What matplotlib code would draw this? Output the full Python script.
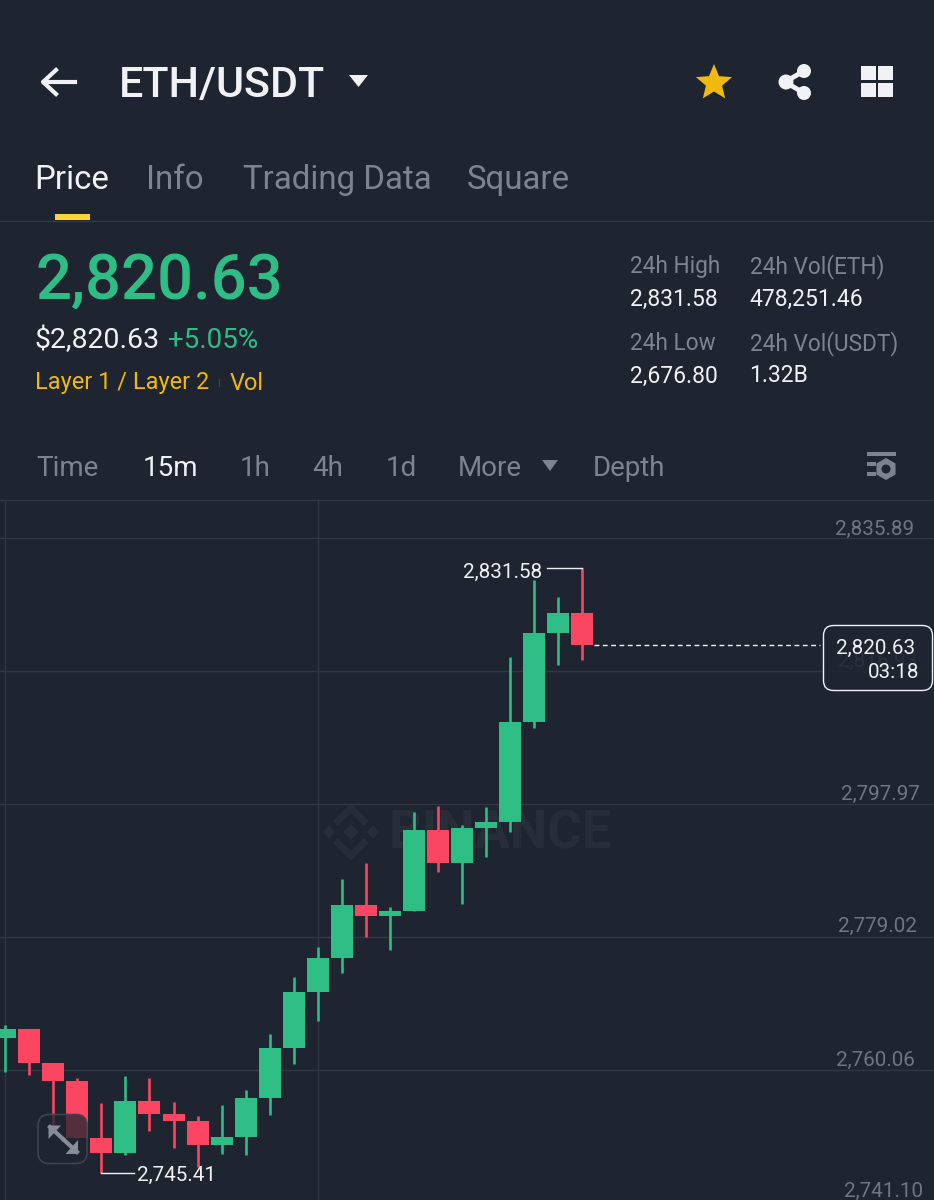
import matplotlib
matplotlib.use("Agg")
import matplotlib.pyplot as plt
from matplotlib.patches import FancyBboxPatch, Polygon, Circle, Rectangle
import numpy as np

plt.rcParams['font.family'] = ['Roboto', 'DejaVu Sans']

# candles, oldest first
opens = [2764.57, 2765.85, 2761.01, 2758.53, 2750.32, 2748.26, 2755.68, 2753.78, 2752.83, 2749.36,
         2750.50, 2756.10, 2763.19, 2771.13, 2776.06, 2783.53, 2782.01, 2782.76, 2794.31, 2789.52,
         2794.51, 2795.45, 2809.70, 2822.30, 2825.16]
highs = [2766.47, 2765.85, 2761.01, 2758.87, 2755.31, 2759.20, 2758.87, 2755.45, 2753.50, 2755.02,
         2757.16, 2765.18, 2773.35, 2777.63, 2787.32, 2789.52, 2783.29, 2796.83, 2797.69, 2794.93,
         2797.50, 2818.88, 2829.90, 2827.44, 2831.58]
lows = [2759.81, 2759.30, 2752.21, 2750.32, 2745.41, 2747.98, 2751.31, 2748.89, 2746.27, 2748.08,
        2747.98, 2753.68, 2760.95, 2767.08, 2773.84, 2779.06, 2777.12, 2782.76, 2788.32, 2783.67,
        2790.46, 2793.94, 2808.85, 2817.79, 2818.50]
closes = [2765.85, 2761.01, 2758.53, 2750.32, 2748.26, 2755.68, 2753.78, 2752.83, 2749.36, 2750.50,
          2756.10, 2763.19, 2771.13, 2776.06, 2783.53, 2782.01, 2782.76, 2794.31, 2789.52, 2794.51,
          2795.45, 2809.70, 2822.30, 2825.16, 2820.63]

price_ticks = [2835.89, 2816.93, 2797.97, 2779.02, 2760.06, 2741.10]
time_grid = [0, 13]
last_price = 2820.63
high_price = 2831.58
low_price = 2745.41

stats = [("24h High", "2,831.58"), ("24h Low", "2,676.80"),
         ("24h Vol(ETH)", "478,251.46"), ("24h Vol(USDT)", "1.32B")]
tabs = ["Price", "Info", "Trading Data", "Square"]
intervals = ["Time", "15m", "1h", "4h", "1d", "More", "Depth"]

BG = '#1E2530'
BG_SOFT = (0.118, 0.145, 0.188, 0.86)
GRID = '#323843'
GREEN = '#2EBD85'
RED = '#FA4660'
GREY = '#7C8492'
LABEL = '#6E7682'
WHITE = '#F0F2F5'
YELLOW = '#F0B90B'

fig = plt.figure(figsize=(9.34, 12), dpi=100, facecolor=BG)


def pixel_axes(z):
    a = fig.add_axes([0, 0, 1, 1], zorder=z)
    a.set_xlim(0, 934)
    a.set_ylim(1200, 0)
    a.axis('off')
    return a


ui = pixel_axes(0)
top = pixel_axes(2)

# header
ui.plot([44, 75], [82, 82], color=WHITE, lw=3)
ui.plot([56, 43, 56], [70, 82, 94], color=WHITE, lw=3)
ui.text(119, 85, "ETH/USDT", color=WHITE, fontsize=31, fontweight='medium', va='center')
ui.add_patch(Polygon([[349, 75], [368, 75], [358.5, 87]], color=WHITE, lw=0))

star_a = np.deg2rad(np.arange(10) * 36 - 90)
star_r = np.where(np.arange(10) % 2 == 0, 19, 8.5)
ui.add_patch(Polygon(np.c_[714 + star_r * np.cos(star_a), 83 + star_r * np.sin(star_a)], color=YELLOW, lw=0))

ui.plot([804, 785, 804], [71, 82, 93], color=WHITE, lw=3.5)
for cx, cy, r in [(804, 71, 7), (786, 82, 7.5), (804, 93, 7)]:
    ui.add_patch(Circle((cx, cy), r, color=WHITE, lw=0))
for cx, cy in [(861, 66), (878, 66), (861, 83), (878, 83)]:
    ui.add_patch(Rectangle((cx, cy), 14.5, 14, color=WHITE, lw=0))

for name, x in zip(tabs, [34, 146, 243, 467]):
    ui.text(x, 180, name, color=WHITE if name == "Price" else GREY, fontsize=23.8, va='center')
ui.add_patch(Rectangle((55, 214), 35, 6, color='#FCD535', lw=0))
ui.plot([0, 934], [220.5, 220.5], color=GRID, lw=1)

# price block
ui.text(36, 282, "2,820.63", color=GREEN, fontsize=45.6, fontweight='medium', va='center')
ui.text(34, 340, "$2,820.63", color=WHITE, fontsize=20.5, va='center')
ui.text(168, 340, "+5.05%", color=GREEN, fontsize=20, va='center')
ui.text(35, 383, "Layer 1 / Layer 2", color=YELLOW, fontsize=16.9, va='center')
ui.plot([219, 219], [379, 386], color='#3A404B', lw=1)
ui.text(230, 383, "Vol", color=YELLOW, fontsize=17, va='center')

for (name, value), x, y in zip(stats, [630, 630, 750, 750], [267, 344, 267, 344]):
    ui.text(x, y, name, color=GREY, fontsize=16.3, va='center')
    ui.text(x - 1 if x == 750 else x, y + 32, value, color=WHITE, fontsize=16.5, va='center')

# interval row
for name, x in zip(intervals, [36, 143, 240, 312, 386, 458, 593]):
    ui.text(x, 469, name, color=WHITE if name == "15m" else GREY, fontsize=20, va='center')
ui.add_patch(Polygon([[542, 460], [558, 460], [550, 471]], color=GREY, lw=0))
ui.add_patch(Rectangle((867, 452), 29, 4, color=GREY, lw=0))
ui.add_patch(Rectangle((867, 462), 9, 3.5, color=GREY, lw=0))
ui.add_patch(Rectangle((867, 472), 9, 3.5, color=GREY, lw=0))
hex_a = np.deg2rad(np.arange(6) * 60 + 30)
ui.add_patch(Polygon(np.c_[886 + 11 * np.cos(hex_a), 469 + 11 * np.sin(hex_a)], color=GREY, lw=0))
ui.add_patch(Circle((886, 469), 4.5, color=BG, lw=0))
ui.plot([0, 934], [499.5, 499.5], color=GRID, lw=1)

# watermark
wm = '#282E39'
for cx, cy, r in [(351, 832, 8), (329, 832, 6.5), (373, 832, 6.5)]:
    ui.add_patch(Polygon([[cx, cy - r], [cx + r, cy], [cx, cy + r], [cx - r, cy]], color=wm, lw=0))
ui.plot([338, 351, 364], [821, 808, 821], color=wm, lw=5, solid_joinstyle='miter')
ui.plot([338, 351, 364], [843, 856, 843], color=wm, lw=5, solid_joinstyle='miter')
ui.text(389, 834, "BINANCE", color=wm, fontsize=38, fontweight='bold', va='center')

# chart, 7.015 px per price unit and 24.03 px per candle
ax = fig.add_axes([0, 0, 1, 700 / 1200], zorder=1)
ax.patch.set_alpha(0)
for s in ax.spines.values():
    s.set_visible(False)
ax.tick_params(left=False, bottom=False, labelleft=False, labelbottom=False)
ax.set_yticks(price_ticks)
ax.set_xticks(time_grid)
# limits after the ticks, set_yticks widens the view to 2741.10 otherwise
ax.set_xlim(-5.3 / 24.03, (934 - 5.3) / 24.03)
ax.set_ylim(2835.89 - 662 / 7.015, 2835.89 + 38 / 7.015)
ax.grid(True, color=GRID, lw=1)
ax.set_axisbelow(True)

idx = np.arange(len(opens))
colors = [GREEN if c > o else RED for o, c in zip(opens, closes)]
ax.vlines(idx, lows, highs, colors=colors, lw=1.9, zorder=2)
ax.bar(idx, np.array(closes) - np.array(opens), bottom=opens, width=0.915, color=colors, lw=0, zorder=3)

# the labels sit a little unevenly over their lines in the screenshot
tick_right = [914, 917, 920, 917, 915, 923]
tick_lift = [9, 10, 10, 11, 10, 12]
for p, x, lift in zip(price_ticks, tick_right, tick_lift):
    ax.annotate(f"{p:,.2f}", xy=(x / 934, p), xycoords=('axes fraction', 'data'), xytext=(0, lift),
                textcoords='offset pixels', color=LABEL, fontsize=14.9, ha='right', va='center',
                annotation_clip=False)

# high / low markers
ax.plot([22.55, 24], [high_price, high_price], color=WHITE, lw=1, zorder=4)
ax.annotate(f"{high_price:,.2f}", xy=(22.35, high_price), xytext=(0, -4), textcoords='offset pixels',
            color=WHITE, fontsize=14.9, ha='right', va='center')
ax.plot([4, 5.35], [low_price, low_price], color=WHITE, lw=1, zorder=4)
ax.annotate(f"{low_price:,.2f}", xy=(5.47, low_price), xytext=(0, -3), textcoords='offset pixels',
            color=WHITE, fontsize=14.9, ha='left', va='center')

# last price line
ax.plot([24.48, 33.9], [last_price, last_price], color=WHITE, lw=1, dashes=(3.5, 2.5), zorder=4)
top.add_patch(FancyBboxPatch((823.5, 625.5), 109, 65, boxstyle="round,pad=0,rounding_size=10",
                             fc=BG_SOFT, ec=WHITE, lw=1, zorder=2))
top.text(915, 648, f"{last_price:,.2f}", color=WHITE, fontsize=14.9, ha='right', va='center', zorder=3)
top.text(919, 673, "03:18", color=WHITE, fontsize=14.9, ha='right', va='center', zorder=3)

# fullscreen button over the candles
top.add_patch(FancyBboxPatch((38, 1114.5), 49, 49, boxstyle="round,pad=0,rounding_size=11",
                             fc=(0.118, 0.145, 0.188, 0.75), ec='#3E444F', lw=1.2))
top.plot([50, 63], [1127, 1139], color='#868C98', lw=3)
top.plot([77, 64], [1152, 1140], color='#868C98', lw=3)
top.add_patch(Polygon([[48.5, 1125.5], [61, 1125.5], [48.5, 1139]], color='#868C98', lw=0))
top.add_patch(Polygon([[78, 1154], [65.5, 1154], [78, 1140]], color='#868C98', lw=0))

fig.savefig("out.png", dpi=100, facecolor=BG)
